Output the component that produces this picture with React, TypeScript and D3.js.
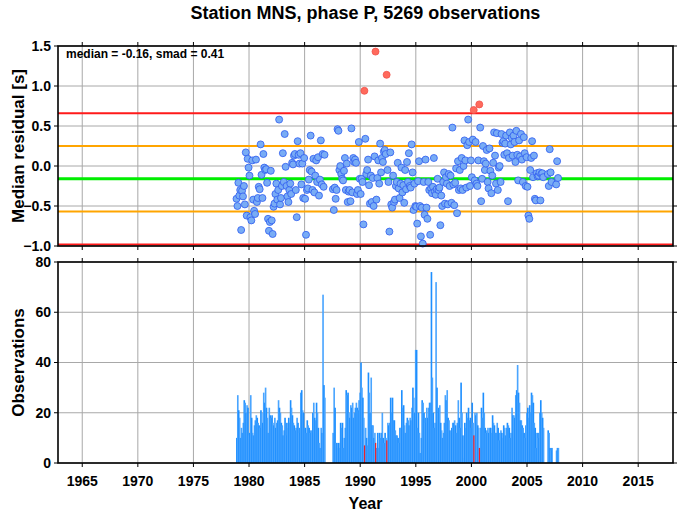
import React from "react";
import * as d3 from "d3";

// ---- Data ----
const TITLE = "Station MNS, phase P, 5269 observations";
const ANNOTATION = "median = -0.16, smad = 0.41";
const MEDIAN = -0.16;
const SMAD = 0.41;
const FIRST_YEAR = 1978;

const xTicks = [1965, 1970, 1975, 1980, 1985, 1990, 1995, 2000, 2005, 2010, 2015];
const residualTicks = [1.5, 1.0, 0.5, 0.0, -0.5, -1.0];
const countTicks = [0, 20, 40, 60, 80];

// monthly observation counts, one row per year from 1978 (Jan..Dec)
const monthlyCounts: (number | null)[][] = [
  [null, null, null, null, null, null, null, null, null, null, 10, 27],
  [21, 18, 10, 14, 12, 16, 25, 24, 20, 23, 22, 11],
  [12, 27, 18, 12, 11, 15, 17, 19, 18, 16, 15, 14],
  [21, 20, 16, 28, 24, 30, 22, 18, 12, 22, 19, 18],
  [19, 16, 15, 18, 14, 16, 17, 25, 22, 20, 16, 15],
  [11, 13, 18, 11, 16, 14, 18, 16, 25, 22, 19, 16],
  [15, 13, 14, 18, 16, 12, 14, 28, 29, 21, 20, 14],
  [14, 12, 17, 15, 14, 12, 13, 12, 20, 24, 18, 17],
  [24, 20, 14, 8, 6, 14, 12, 67, 31, 26, null, null],
  [null, null, null, null, null, null, 12, 30, 22, 8, 8, 6],
  [8, 6, 16, 14, 16, 6, 10, 14, 29, 27, 28, 20],
  [18, 23, 22, 24, 18, 20, 22, 24, 22, 21, 25, 28],
  [40, 30, 26, 18, 7, 14, 10, 7, 36, 28, 20, 34],
  [15, 15, 10, 12, 8, 6, 12, 6, 12, 10, 12, 20],
  [10, 8, 12, 10, 9, 16, 15, 16, 26, 20, 26, 17],
  [17, 13, 11, 11, 10, 8, 14, 14, 29, 22, 23, 15],
  [12, 16, 18, 17, 15, 18, 17, 22, 30, 26, 20, 45],
  [45, 14, 20, 12, 4, 10, 25, 24, 20, 16, 18, 22],
  [18, 22, 24, 24, 76, 34, 20, 14, 16, 72, 30, 20],
  [22, 23, 16, 13, 10, 12, 16, 27, 25, 29, 18, 17],
  [13, 12, 14, 16, 16, 17, 15, 12, 16, 25, 18, 14],
  [32, 20, 11, 2, 16, 14, 20, 18, 22, 17, 18, 14],
  [24, 16, 11, 20, 19, 20, 15, 14, 6, 14, 22, 18],
  [28, 20, 14, 12, 13, 14, 12, 14, 14, 12, 19, 16],
  [15, 12, 12, 16, 14, 9, 12, 13, 12, 10, 15, 14],
  [11, 14, 16, 15, 14, 10, 12, 22, 19, 19, 18, 27],
  [29, 39, 28, 24, 17, 17, 15, 14, 12, 10, 15, 20],
  [22, 18, 23, 20, 28, 27, 24, 16, 14, 6, 12, 10],
  [12, 20, 25, 20, 18, 14, null, null, null, null, 13, 12],
  [6, 5, 6, null, null, null, null, 5, 6, 6, null, null],
];

// monthly median residuals [s], one row per year from 1978 (Jan..Dec)
const monthlyMedians: (number | null)[][] = [
  [null, null, null, null, null, null, null, null, null, null, -0.41, -0.5],
  [-0.21, -0.37, -0.3, -0.8, -0.31, -0.38, -0.25, -0.48, 0.17, -0.62, 0.09, -0.02],
  [-0.12, -0.64, -0.68, 0.07, -0.42, -0.56, -0.6, 0.08, -0.45, -0.4, -0.26, -0.29],
  [0.27, -0.11, -0.4, 0.15, -0.02, -0.05, -0.04, -0.21, -0.66, -0.81, -0.7, -0.06],
  [-0.68, -0.85, -0.51, -0.47, -0.35, -0.22, -0.42, -0.3, 0.58, -0.48, -0.4, -0.25],
  [0.16, -0.2, 0.4, -0.01, -0.25, -0.38, -0.45, -0.3, -0.22, -0.35, 0.04, 0.02],
  [0.13, 0.15, -0.3, -0.64, 0.31, 0.14, 0.03, 0.16, -0.23, 0.03, -0.4, 0.1],
  [-0.41, -0.86, -0.3, -0.28, -0.17, -0.05, 0.38, -0.07, -0.3, 0.09, -0.33, -0.12],
  [0.07, -0.2, 0.11, -0.37, -0.17, 0.32, -0.23, 0.15, -0.26, 0.14, null, null],
  [null, null, null, null, null, null, -0.29, -0.55, -0.27, -0.41, -0.3, 0.46],
  [0.44, -0.05, 0.0, -0.1, -0.16, -0.18, -0.06, 0.1, -0.3, 0.03, -0.45, -0.32],
  [-0.3, -0.44, 0.47, -0.33, 0.1, 0.05, 0.08, 0.04, -0.35, -0.3, 0.3, -0.16],
  [-0.35, -0.16, -0.2, -0.73, 0.94, 0.34, -0.1, -0.05, 0.08, -0.24, -0.47, -0.12],
  [-0.45, -0.15, -0.5, 0.12, 1.43, -0.42, -0.15, 0.07, -0.22, 0.28, -0.08, 0.1],
  [0.05, 0.18, 0.2, 0.15, 1.14, -0.05, -0.2, -0.82, 0.17, -0.48, -0.52, -0.12],
  [-0.45, -0.42, -0.25, -0.2, 0.04, -0.28, -0.4, -0.22, -0.02, -0.33, -0.24, -0.46],
  [-0.05, -0.29, 0.05, -0.2, 0.16, -0.25, -0.27, 0.27, -0.08, -0.55, -0.22, -0.5],
  [-0.51, -0.72, -0.19, 0.06, -0.5, -0.88, -0.52, -0.97, -0.2, -0.61, 0.08, -0.52],
  [-0.66, -0.2, -0.3, -0.86, -0.28, -0.34, -0.26, 0.1, -0.32, -0.36, -0.29, -0.16],
  [-0.3, -0.27, -0.74, -0.37, -0.5, -0.2, -0.08, -0.47, -0.14, -0.22, -0.48, -0.1],
  [-0.25, -0.12, -0.46, 0.48, -0.23, -0.49, -0.21, -0.03, -0.59, 0.06, -0.3, -0.05],
  [-0.28, 0.1, -0.3, 0.0, 0.32, 0.07, -0.27, 0.26, 0.58, 0.3, -0.25, 0.07],
  [-0.14, 0.33, 0.7, -0.18, 0.3, -0.22, -0.25, 0.07, 0.77, 0.48, -0.44, -0.16],
  [0.25, 0.06, -0.05, 0.03, 0.2, -0.2, -0.28, 0.22, -0.06, -0.34, -0.12, 0.04],
  [0.42, 0.13, -0.22, 0.41, -0.3, -0.02, 0.0, -0.2, 0.4, 0.29, 0.31, 0.14],
  [0.28, 0.38, 0.16, -0.44, 0.1, 0.42, 0.27, 0.35, 0.13, 0.38, 0.3, 0.05],
  [0.44, 0.14, -0.18, 0.32, 0.12, 0.4, 0.08, -0.2, 0.36, 0.16, -0.25, 0.11],
  [-0.26, -0.62, -0.66, -0.05, 0.1, 0.31, -0.14, 0.13, -0.41, -0.43, -0.09, -0.13],
  [-0.12, -0.08, -0.43, -0.1, -0.09, -0.14, null, null, null, null, -0.1, -0.25],
  [0.21, -0.08, -0.2, null, null, null, null, -0.23, 0.06, -0.15, null, null],
];

// ---- Layout ----
const W = 678;
const H = 511;
const L = 58;
const R = 673;
const T1 = 46;
const B1 = 246;
const T2 = 262;
const B2 = 463;
const FONT = "'Liberation Sans', Arial, Helvetica, sans-serif";

type Month = { t: number; count: number; med: number; outlier: boolean; idx: number };

const months: Month[] = [];
monthlyCounts.forEach((row, yi) => {
  row.forEach((c, m) => {
    const med = monthlyMedians[yi][m];
    if (c == null || med == null) return;
    const t = FIRST_YEAR + yi + m / 12;
    const outlier = Math.abs(med - MEDIAN) > 2 * SMAD;
    months.push({ t, count: c, med, outlier, idx: yi * 12 + m });
  });
});
const barOrder = [...months.filter((d) => !d.outlier), ...months.filter((d) => d.outlier)];

export default function App() {
  const x = d3.scaleLinear().domain([1962.82, 2018.13]).range([L, R]);
  const yR = d3.scaleLinear().domain([-1, 1.5]).range([B1, T1]);
  const yC = d3.scaleLinear().domain([0, 80]).range([B2, T2]);
  const fmt = d3.format(".1f");

  const refLines = [
    { v: MEDIAN + 2 * SMAD, c: "#ff1a1a", w: 2 },
    { v: MEDIAN - 2 * SMAD, c: "#ff1a1a", w: 2 },
    { v: MEDIAN + SMAD, c: "#ffa500", w: 2 },
    { v: MEDIAN - SMAD, c: "#ffa500", w: 2 },
    { v: MEDIAN, c: "#00ee00", w: 3 },
  ];

  const grid = "#a8a8a8";
  const tickLen = 4;

  const panelFrame = (top: number, bottom: number) => (
    <g>
      {xTicks.map((t) => (
        <g key={"tk" + t}>
          <line x1={x(t)} x2={x(t)} y1={top - tickLen} y2={top} stroke="#000" strokeWidth={1} />
          <line x1={x(t)} x2={x(t)} y1={bottom} y2={bottom + tickLen} stroke="#000" strokeWidth={1} />
        </g>
      ))}
      <rect x={L} y={top} width={R - L} height={bottom - top} fill="none" stroke="#000" strokeWidth={1.6} />
    </g>
  );

  return (
    <svg width={W} height={H} style={{ display: "block", position: "absolute", left: 0, top: 0 }} fontFamily={FONT}>
      <rect x={0} y={0} width={W} height={H} fill="#fff" />
      <text x={(L + R) / 2} y={19} textAnchor="middle" fontSize={18} fontWeight="bold">
        {TITLE}
      </text>

      {/* ---- Top panel ---- */}
      <g>
        {xTicks.map((t) => (
          <line key={"gx1" + t} x1={x(t)} x2={x(t)} y1={T1} y2={B1} stroke={grid} strokeWidth={1} />
        ))}
        {residualTicks.map((v) => (
          <line key={"gy1" + v} x1={L} x2={R} y1={yR(v)} y2={yR(v)} stroke={grid} strokeWidth={1} />
        ))}
        {refLines.map((r, i) => (
          <line key={"ref" + i} x1={L} x2={R} y1={yR(r.v)} y2={yR(r.v)} stroke={r.c} strokeWidth={r.w} />
        ))}
        {months.map((d) => (
          <circle
            key={"p" + d.idx}
            cx={x(d.t + 1 / 24)}
            cy={yR(d.med)}
            r={3.5}
            fill={d.outlier ? "#ff6a5c" : "#78acf5"}
            stroke={d.outlier ? "#f0504a" : "#2f5cf0"}
            strokeWidth={0.8}
          />
        ))}
        {panelFrame(T1, B1)}
        {residualTicks.map((v) => (
          <g key={"ty1" + v}>
            <line x1={L - tickLen} x2={L} y1={yR(v)} y2={yR(v)} stroke="#000" />
            <line x1={R} x2={R + tickLen} y1={yR(v)} y2={yR(v)} stroke="#000" />
            <text x={L - 7} y={yR(v)} dy="0.35em" textAnchor="end" fontSize={14} fontWeight="bold">
              {fmt(v)}
            </text>
          </g>
        ))}
        <text x={66} y={58} fontSize={12} fontWeight="bold">
          {ANNOTATION}
        </text>
        <text
          transform={`translate(24,${(T1 + B1) / 2}) rotate(-90)`}
          textAnchor="middle"
          fontSize={17}
          fontWeight="bold"
        >
          Median residual [s]
        </text>
      </g>

      {/* ---- Bottom panel ---- */}
      <g>
        {xTicks.map((t) => (
          <line key={"gx2" + t} x1={x(t)} x2={x(t)} y1={T2} y2={B2} stroke={grid} strokeWidth={1} />
        ))}
        {countTicks.map((v) => (
          <line key={"gy2" + v} x1={L} x2={R} y1={yC(v)} y2={yC(v)} stroke={grid} strokeWidth={1} />
        ))}
        {barOrder.map((d) => {
          const x0 = x(d.t);
          const x1 = x(d.t + 1 / 12);
          return (
            <rect
              key={"b" + d.idx}
              x={x0}
              y={yC(d.count)}
              width={d.outlier ? x1 - x0 + 0.3 : x1 - x0 + 0.7}
              height={yC(0) - yC(d.count)}
              fill={d.outlier ? "#e8202e" : d.idx % 2 === 0 ? "#1e8fff" : "#4aa5ff"}
            />
          );
        })}
        {panelFrame(T2, B2)}
        {countTicks.map((v) => (
          <g key={"ty2" + v}>
            <line x1={L - tickLen} x2={L} y1={yC(v)} y2={yC(v)} stroke="#000" />
            <line x1={R} x2={R + tickLen} y1={yC(v)} y2={yC(v)} stroke="#000" />
            <text x={L - 7} y={yC(v)} dy="0.35em" textAnchor="end" fontSize={14} fontWeight="bold">
              {v}
            </text>
          </g>
        ))}
        {xTicks.map((t) => (
          <text key={"lx" + t} x={x(t)} y={486} textAnchor="middle" fontSize={14} fontWeight="bold">
            {t}
          </text>
        ))}
        <text
          transform={`translate(24,${(T2 + B2) / 2}) rotate(-90)`}
          textAnchor="middle"
          fontSize={17}
          fontWeight="bold"
        >
          Observations
        </text>
        <text x={(L + R) / 2} y={509} textAnchor="middle" fontSize={16} fontWeight="bold">
          Year
        </text>
      </g>
    </svg>
  );
}
